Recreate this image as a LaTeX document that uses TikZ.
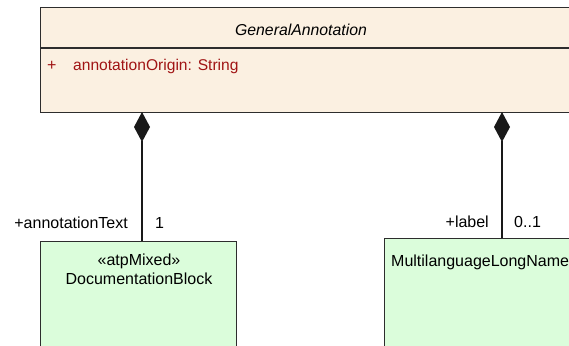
\documentclass[tikz,border=0pt]{standalone}
\usepackage{fontspec}
\setmainfont{Liberation Sans}
\usetikzlibrary{arrows.meta}
\definecolor{gabg}{RGB}{251,240,225}
\definecolor{clsgreen}{RGB}{219,253,219}
\definecolor{attrred}{RGB}{160,20,20}
\definecolor{edgecol}{RGB}{45,45,45}
\begin{document}
\begin{tikzpicture}[x=1pt,y=-1pt,
  font=\fontsize{16}{19}\selectfont,
  classbox/.style={draw=edgecol, line width=1.3pt, inner sep=0pt, anchor=north west},
  txt/.style={inner sep=0pt, text=black},
  comp/.style={draw=black!90, line width=1.2pt, {Diamond[length=30pt,width=16pt]}-}]
\useasboundingbox (0,0) rectangle (569,345);
\clip (0,0) rectangle (569,345);
% top class
\node[classbox, fill=gabg, minimum width=560pt, minimum height=105pt] (ga) at (40,7) {};
\draw[edgecol, line width=1.3pt] (40,48) -- (600,48);
\node[txt, anchor=base, font=\fontsize{15.8}{19}\selectfont\itshape] (ganame) at (301,36) {GeneralAnnotation};
\node[txt, anchor=base west, text=attrred] (plus) at (47,70) {+};
\node[txt, anchor=base west, text=attrred, font=\fontsize{15.6}{19}\selectfont] (attr) at (73,70) {annotationOrigin: String};
% lower classes
\node[classbox, fill=clsgreen, minimum width=196pt, minimum height=130pt] (db) at (40,241) {};
\node[txt, anchor=base] (dbst) at (139,265.5) {«atpMixed»};
\node[txt, anchor=base] (dbname) at (139,284) {DocumentationBlock};
\node[classbox, fill=clsgreen, minimum width=220pt, minimum height=130pt] (ml) at (384,238) {};
\node[txt, anchor=base west] (mlname) at (391,266) {MultilanguageLongName};
% connectors
\coordinate (s1) at (142,112);
\coordinate (e1) at (142,241);
\coordinate (s2) at (502,112);
\coordinate (e2) at (502,238);
\draw[comp] (s1) -- (e1);
\draw[comp] (s2) -- (e2);
% role labels
\node[txt, anchor=base east] (r1) at (128,228) {+annotationText};
\node[txt, anchor=base west] (m1) at (155,228) {1};
\node[txt, anchor=base east] (r2) at (489,227) {+label};
\node[txt, anchor=base west] (m2) at (514,227) {0..1};
\end{tikzpicture}
\end{document}
